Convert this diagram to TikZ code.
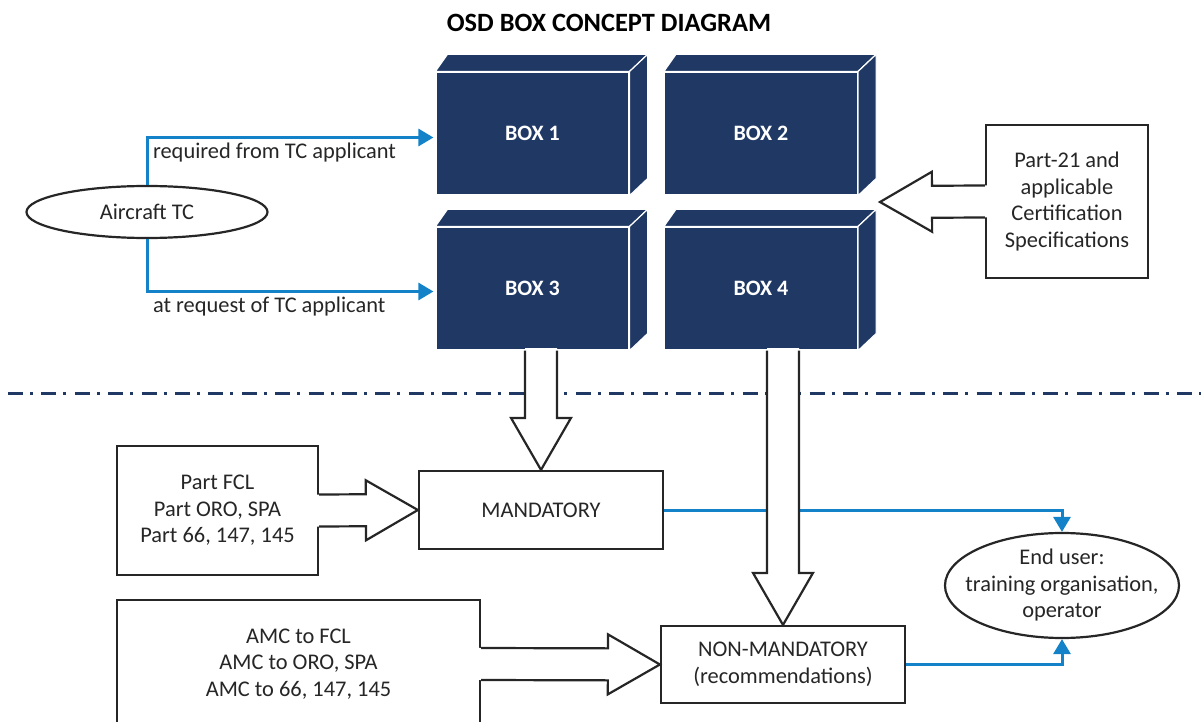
\documentclass[tikz,border=0pt]{standalone}
\usepackage{fontspec}
\setmainfont{Carlito}
\usetikzlibrary{arrows.meta, calc, shapes.geometric}
\definecolor{osdnavy}{RGB}{31,56,100}
\definecolor{osdblue}{RGB}{20,130,200}
\definecolor{osdtext}{RGB}{38,38,38}
\tikzset{
	txt/.style={font=\fontsize{11.2}{13.25}\selectfont, text=osdtext},
	osdface/.style={draw=white, line width=0.6pt, fill=osdnavy, minimum width=96.5pt, minimum height=61.5pt, inner sep=0pt, text=white, font=\bfseries\fontsize{11}{13}\selectfont},
	osdside/.style={fill=osdnavy, draw=white, line width=0.6pt, line join=round},
	plainbox/.style={txt, draw=black!85, line width=1.1pt, fill=white, align=center, inner sep=0pt},
	oval/.style={txt, ellipse, draw=black!85, line width=1.1pt, fill=white, align=center, inner sep=0pt},
	blueline/.style={draw=osdblue, line width=1.5pt, -{Triangle[length=7.5pt, width=8.5pt]}},
	hollow/.style={draw=black!85, line width=1.1pt, line join=miter},
	sepline/.style={draw=osdnavy, line width=1.5pt, dash pattern=on 7.5pt off 3.5pt on 1.5pt off 4.2pt}
}
% wide outlined arrow from #1 to #2
\newcommand{\hollowarrow}[2]{%
	\coordinate (ha-neck) at ($(#2)!26pt!(#1)$);
	\coordinate (ha-tail) at ($(#1)!-1.2pt!(#2)$);
	\fill [white] ($(ha-tail)!8pt!90:(#2)$) -- ($(ha-neck)!8pt!90:(#2)$) -- ($(ha-neck)!15pt!90:(#2)$) -- (#2)
		-- ($(ha-neck)!15pt!-90:(#2)$) -- ($(ha-neck)!8pt!-90:(#2)$) -- ($(ha-tail)!8pt!-90:(#2)$) -- cycle;
	\draw [hollow] ($(#1)!8pt!90:(#2)$) -- ($(ha-neck)!8pt!90:(#2)$) -- ($(ha-neck)!15pt!90:(#2)$) -- (#2)
		-- ($(ha-neck)!15pt!-90:(#2)$) -- ($(ha-neck)!8pt!-90:(#2)$) -- ($(#1)!8pt!-90:(#2)$);
}
\begin{document}
\begin{tikzpicture}[x=0.5pt, y=-0.5pt]
	\clip (0,0) rectangle (1201,722);
	% Title
	\node [font=\bfseries\fontsize{13.2}{16}\selectfont] (title) at (609,23) {OSD BOX CONCEPT DIAGRAM};
	% OSD boxes
	\foreach \n/\bx/\by in {1/532.5/133.5, 2/761/133.5, 3/532.5/288.5, 4/761/288.5} {
		\node [osdface] (box\n) at (\bx,\by) {BOX \n};
		\filldraw [osdside] (box\n.north west) -- ++(12,-17) -- ($(box\n.north east)+(18,-17)$) -- (box\n.north east) -- cycle;
		\filldraw [osdside] (box\n.north east) -- ++(18,-17) -- ($(box\n.south east)+(18,-17)$) -- (box\n.south east) -- cycle;
	}
	% Aircraft TC
	\node [oval, minimum width=120.5pt, minimum height=26pt] (ac) at (147,212) {Aircraft TC};
	\draw [blueline, shorten >=1pt] (ac.north) |- ($(box1.west)+(0,4)$);
	\draw [blueline, shorten >=1pt] (ac.south) |- ($(box3.west)+(0,3)$);
	\node [txt, anchor=west] (req-lbl) at (146,153) {required from TC applicant};
	\node [txt, anchor=west] (ask-lbl) at (146,307) {at request of TC applicant};
	% Part-21
	\node [plainbox, minimum width=81pt, minimum height=76.5pt] (part21) at (1067,201.5) {Part-21 and\\applicable\\Certification\\Specifications};
	\coordinate (boxes-e) at (880,202);
	% Separator
	\coordinate (sep-w) at (8,393.5);
	\coordinate (sep-e) at (1201,393.5);
	\draw [sepline] (sep-w) -- (sep-e);
	% Lower part
	\node [plainbox, minimum width=122pt, minimum height=39pt] (mand) at (541,510) {MANDATORY};
	\node [plainbox, minimum width=122pt, minimum height=38.5pt] (nonmand) at (783,664.5) {NON-MANDATORY\\(recommendations)};
	\node [plainbox, minimum width=100.5pt, minimum height=64.5pt] (fcl) at (217.5,510.5) {Part FCL\\Part ORO, SPA\\Part 66, 147, 145};
	\node [plainbox, minimum width=181.5pt, minimum height=64pt] (amc) at (298.5,664) {AMC to FCL\\AMC to ORO, SPA\\AMC to 66, 147, 145};
	\node [oval, inner xsep=-7.5pt, minimum width=117pt, minimum height=52.5pt] (user) at (1062,585.5) {End user:\\training organisation,\\operator};
	\draw [blueline] (mand.east) -| (user.north);
	\draw [blueline] (nonmand.east) -| (user.south);
	% Wide arrows
	\coordinate (box3-out) at (mand.north |- box3.south);
	\coordinate (box4-out) at (nonmand.north |- box4.south);
	\hollowarrow{part21.west}{boxes-e}
	\hollowarrow{box3-out}{mand.north}
	\hollowarrow{box4-out}{nonmand.north}
	\hollowarrow{fcl.east}{mand.west}
	\hollowarrow{amc.east}{nonmand.west}
\end{tikzpicture}
\end{document}
